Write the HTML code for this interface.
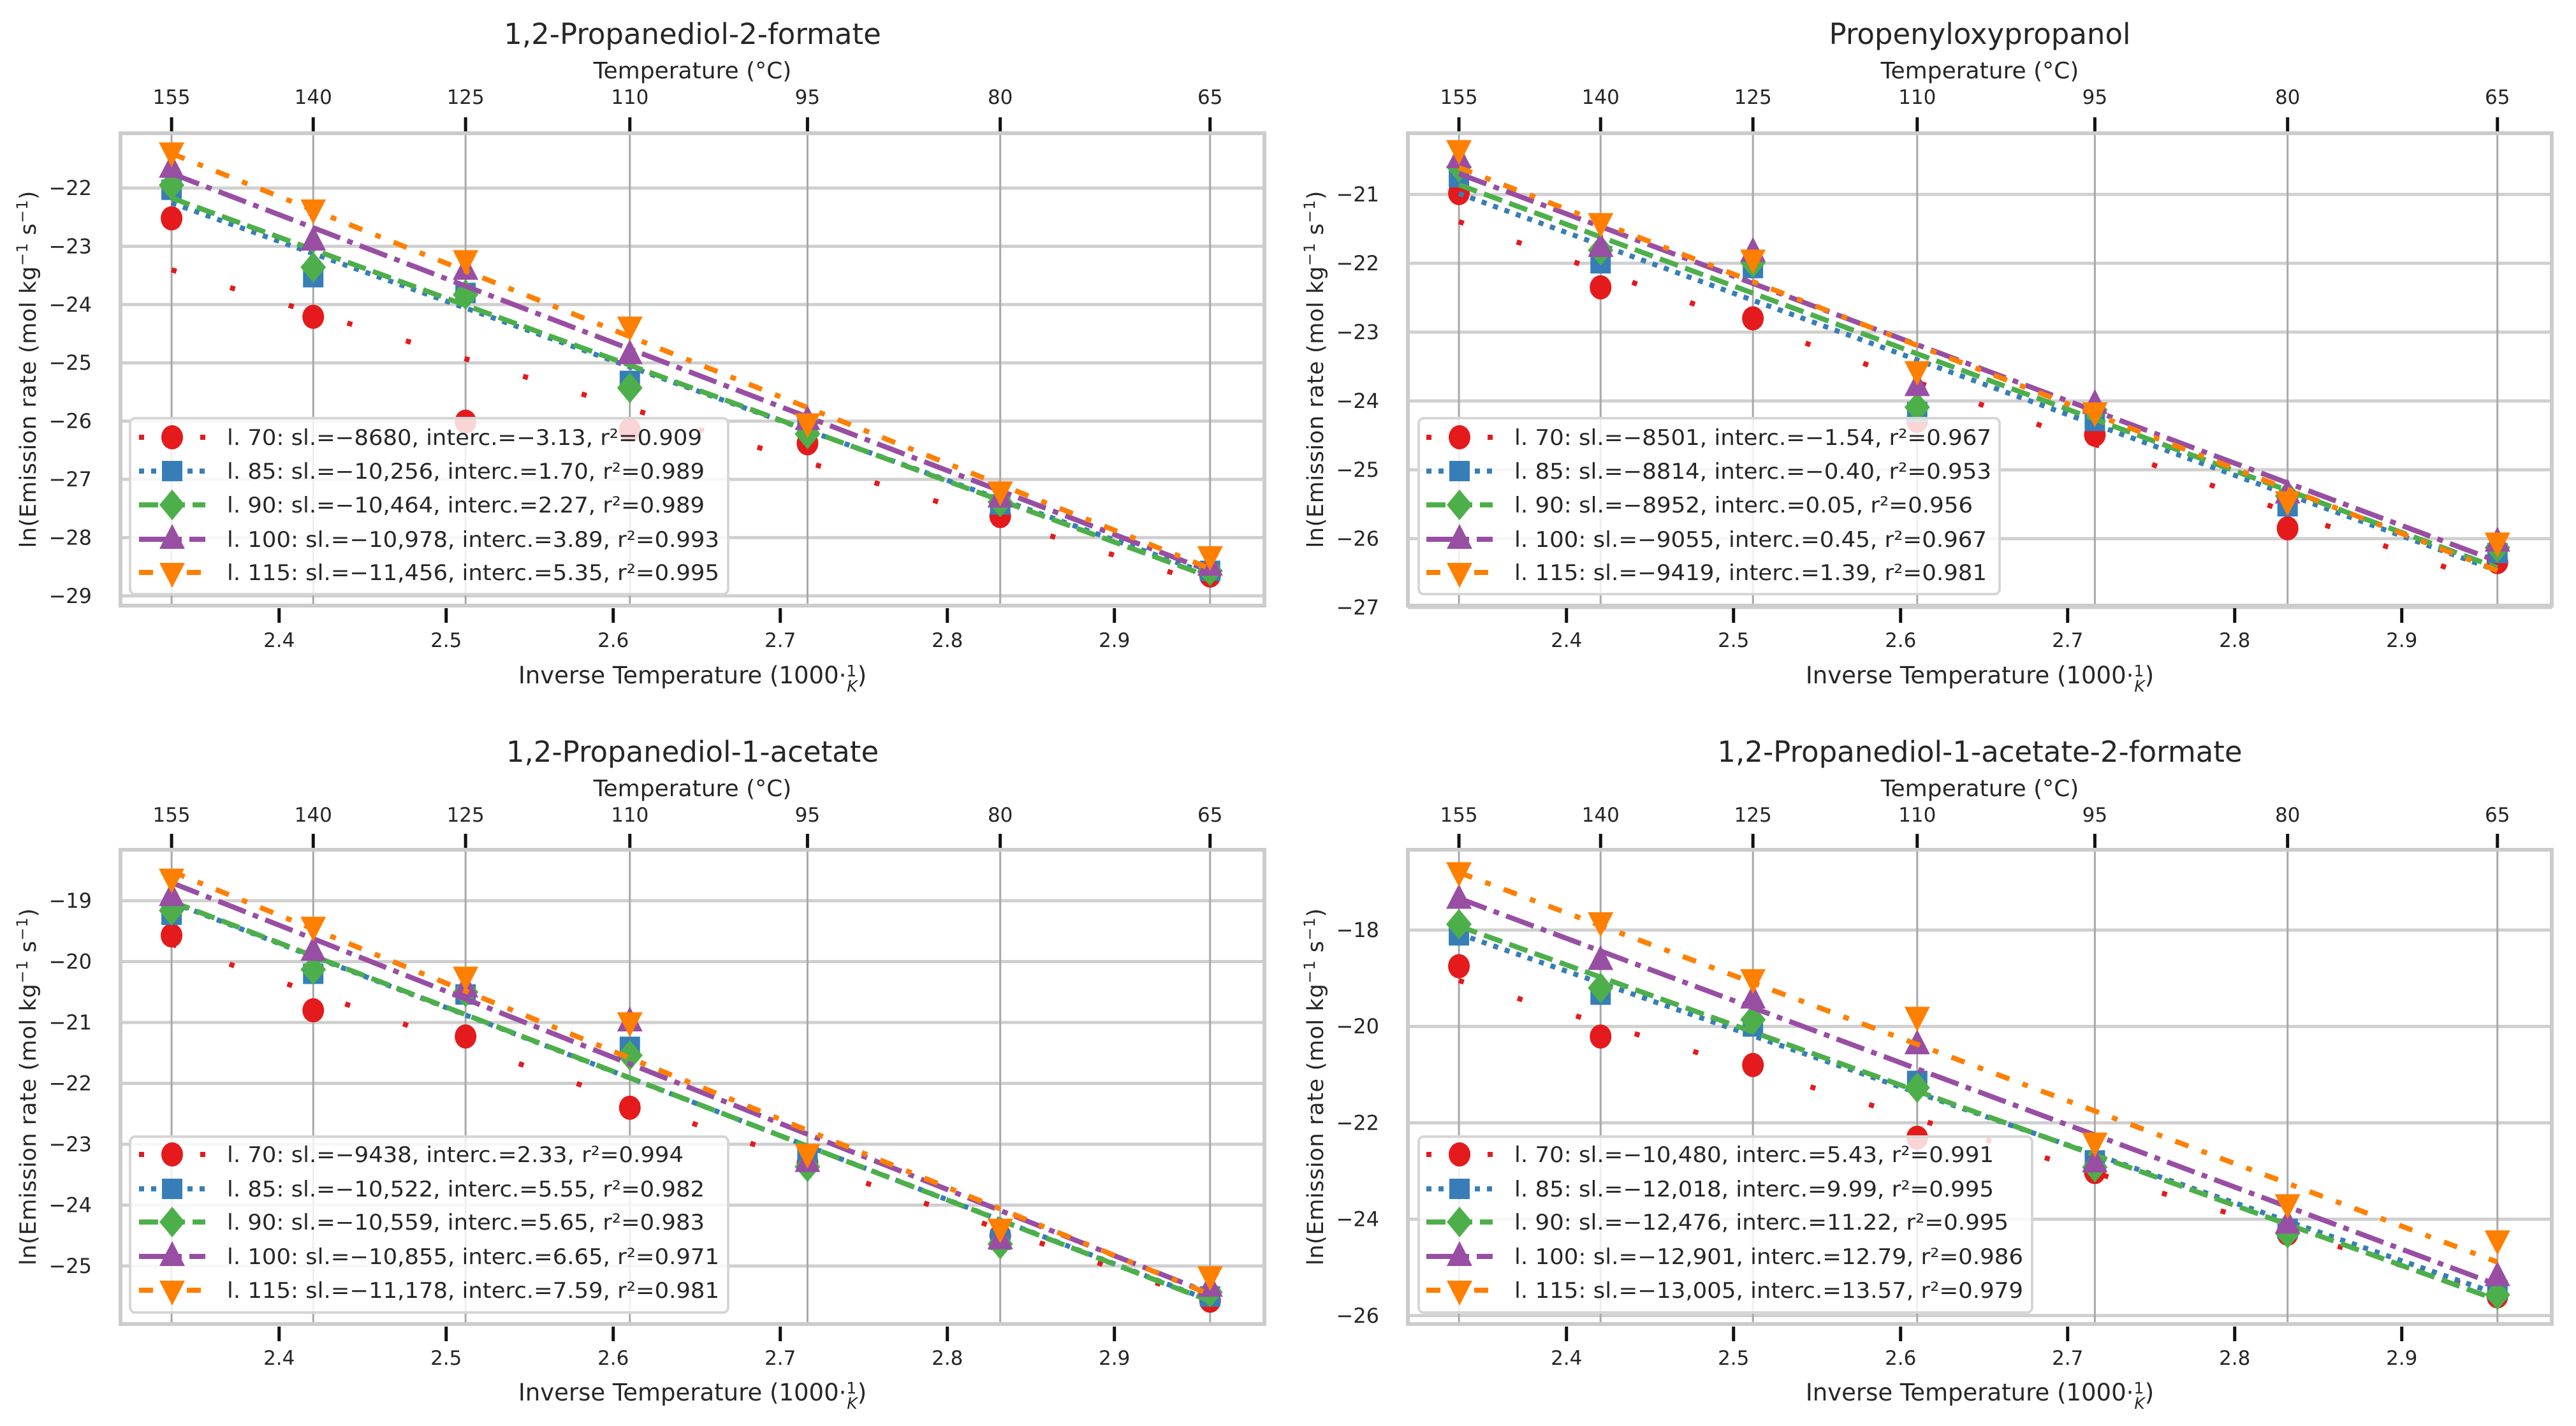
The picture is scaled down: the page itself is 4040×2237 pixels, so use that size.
<!DOCTYPE html>
<html><head><meta charset="utf-8"><style>
html,body{margin:0;padding:0;background:#fff}
svg{display:block}
text{font-family:"DejaVu Sans","Liberation Sans",sans-serif;fill:#262626}
</style></head><body>
<svg id="fig" xmlns="http://www.w3.org/2000/svg" width="4040" height="2237" viewBox="0 0 4040 2237"></svg>
<script>
// ---- data ----
const tempsC = [155,140,125,110,95,80,65];
const seriesLabels = ["70","85","90","100","115"];
const xTicks = [2.4,2.5,2.6,2.7,2.8,2.9];
const titles = ["1,2-Propanediol-2-formate","Propenyloxypropanol","1,2-Propanediol-1-acetate","1,2-Propanediol-1-acetate-2-formate"];
const yTicksP1 = [-22,-23,-24,-25,-26,-27,-28,-29];
const yTicksP2 = [-21,-22,-23,-24,-25,-26,-27];
const yTicksP3 = [-19,-20,-21,-22,-23,-24,-25];
const yTicksP4 = [-18,-20,-22,-24,-26];
const slopesP1 = [-8680,-10256,-10464,-10978,-11456];
const intercP1 = [-3.13,1.70,2.27,3.89,5.35];
const slopesP2 = [-8501,-8814,-8952,-9055,-9419];
const intercP2 = [-1.54,-0.40,0.05,0.45,1.39];
const slopesP3 = [-9438,-10522,-10559,-10855,-11178];
const intercP3 = [2.33,5.55,5.65,6.65,7.59];
const slopesP4 = [-10480,-12018,-12476,-12901,-13005];
const intercP4 = [5.43,9.99,11.22,12.79,13.57];
const legendP1 = ["l. 70: sl.=\u22128680, interc.=\u22123.13, r\u00b2=0.909","l. 85: sl.=\u221210,256, interc.=1.70, r\u00b2=0.989","l. 90: sl.=\u221210,464, interc.=2.27, r\u00b2=0.989","l. 100: sl.=\u221210,978, interc.=3.89, r\u00b2=0.993","l. 115: sl.=\u221211,456, interc.=5.35, r\u00b2=0.995"];
const legendP2 = ["l. 70: sl.=\u22128501, interc.=\u22121.54, r\u00b2=0.967","l. 85: sl.=\u22128814, interc.=\u22120.40, r\u00b2=0.953","l. 90: sl.=\u22128952, interc.=0.05, r\u00b2=0.956","l. 100: sl.=\u22129055, interc.=0.45, r\u00b2=0.967","l. 115: sl.=\u22129419, interc.=1.39, r\u00b2=0.981"];
const legendP3 = ["l. 70: sl.=\u22129438, interc.=2.33, r\u00b2=0.994","l. 85: sl.=\u221210,522, interc.=5.55, r\u00b2=0.982","l. 90: sl.=\u221210,559, interc.=5.65, r\u00b2=0.983","l. 100: sl.=\u221210,855, interc.=6.65, r\u00b2=0.971","l. 115: sl.=\u221211,178, interc.=7.59, r\u00b2=0.981"];
const legendP4 = ["l. 70: sl.=\u221210,480, interc.=5.43, r\u00b2=0.991","l. 85: sl.=\u221212,018, interc.=9.99, r\u00b2=0.995","l. 90: sl.=\u221212,476, interc.=11.22, r\u00b2=0.995","l. 100: sl.=\u221212,901, interc.=12.79, r\u00b2=0.986","l. 115: sl.=\u221213,005, interc.=13.57, r\u00b2=0.979"];
// measured points per series (order 155..65 °C)
const p1s70=[-22.52,-24.21,-26.01,-26.15,-26.38,-27.63,-28.65];
const p1s85=[-22.03,-23.53,-23.80,-25.31,-26.10,-27.43,-28.57];
const p1s90=[-21.95,-23.36,-23.83,-25.43,-26.22,-27.39,-28.57];
const p1s100=[-21.66,-22.91,-23.41,-24.86,-25.99,-27.32,-28.49];
const p1s115=[-21.38,-22.36,-23.23,-24.37,-26.03,-27.20,-28.31];
const p2s70=[-20.98,-22.35,-22.80,-24.29,-24.49,-25.85,-26.34];
const p2s85=[-20.75,-22.00,-22.07,-24.16,-24.29,-25.53,-26.21];
const p2s90=[-20.60,-21.81,-21.99,-24.09,-24.13,-25.38,-26.13];
const p2s100=[-20.48,-21.77,-21.84,-23.79,-24.05,-25.35,-26.05];
const p2s115=[-20.35,-21.41,-21.94,-23.56,-24.16,-25.45,-26.05];
const p3s70=[-19.57,-20.80,-21.23,-22.40,-23.30,-24.50,-25.57];
const p3s85=[-19.23,-20.20,-20.54,-21.40,-23.19,-24.57,-25.50];
const p3s90=[-19.16,-20.13,-20.50,-21.54,-23.37,-24.64,-25.43];
const p3s100=[-18.93,-19.83,-20.43,-20.99,-23.30,-24.57,-25.35];
const p3s115=[-18.63,-19.42,-20.24,-20.99,-23.15,-24.38,-25.16];
const p4s70=[-18.75,-20.21,-20.80,-22.31,-23.02,-24.30,-25.60];
const p4s85=[-18.11,-19.34,-20.00,-21.13,-22.78,-24.20,-25.47];
const p4s90=[-17.88,-19.20,-19.86,-21.27,-22.92,-24.29,-25.57];
const p4s100=[-17.36,-18.63,-19.43,-20.38,-22.83,-24.10,-25.19];
const p4s115=[-16.79,-17.83,-19.01,-19.79,-22.40,-23.68,-24.43];

// ---- styles / layout ----
const colors=["#e41a1c","#377eb8","#4daf4a","#984ea3","#ff7f00"];
const dashes=["8 88","8 11","30 12","46 12 9 12","22 22 9 22"];
const markers=["circle","square","diamond","tri-up","tri-down"];
const NS="http://www.w3.org/2000/svg";
const svg=document.getElementById("fig");
function el(tag,attrs,parent,txt){const e=document.createElementNS(NS,tag);for(const k in attrs)e.setAttribute(k,attrs[k]);if(txt!==undefined)e.textContent=txt;(parent||svg).appendChild(e);return e;}

const panels=[
 {dx:0,top:209,bot:950,y0:-22,ppu:91.4,yt:yTicksP1,sl:slopesP1,ic:intercP1,pts:[p1s70,p1s85,p1s90,p1s100,p1s115],leg:legendP1,legEnd:[1101,1105,1105,1128,1128],lbox:[204,656,1142,932],rows:[686,739,792,846,898],tY:53,tempY:110,ttY:152,xlY:1004,xaY:1060},
 {dx:2019,top:209,bot:950,y0:-21,ppu:108,yt:yTicksP2,sl:slopesP2,ic:intercP2,pts:[p2s70,p2s85,p2s90,p2s100,p2s115],leg:legendP2,legEnd:[1104,1104,1075,1097,1097],lbox:[206,656,1117,932],rows:[686,739,792,846,898],tY:53,tempY:110,ttY:152,xlY:1004,xaY:1060},
 {dx:0,top:1333,bot:2077,y0:-19,ppu:95.5,yt:yTicksP3,sl:slopesP3,ic:intercP3,pts:[p3s70,p3s85,p3s90,p3s100,p3s115],leg:legendP3,legEnd:[1072,1105,1105,1128,1128],lbox:[204,1783,1142,2059],rows:[1811,1865,1917,1971,2024],tY:1179,tempY:1236,ttY:1278,xlY:2130,xaY:2185},
 {dx:2019,top:1333,bot:2077,y0:-18,ppu:75.6,yt:yTicksP4,sl:slopesP4,ic:intercP4,pts:[p4s70,p4s85,p4s90,p4s100,p4s115],leg:legendP4,legEnd:[1108,1108,1131,1154,1154],lbox:[206,1783,1168,2059],rows:[1811,1865,1917,1971,2024],tY:1179,tempY:1236,ttY:1278,xlY:2130,xaY:2185}
];

function marker(g,type,cx,cy,color,s){
  let m;
  if(type==="circle") m=el("ellipse",{cx:cx,cy:cy,rx:17*s,ry:19*s,fill:color},g);
  else if(type==="square") m=el("rect",{x:cx-16*s,y:cy-16*s,width:32*s,height:32*s,fill:color},g);
  else if(type==="diamond") m=el("polygon",{points:`${cx},${cy-24*s} ${cx+20*s},${cy} ${cx},${cy+24*s} ${cx-20*s},${cy}`,fill:color},g);
  else if(type==="tri-up") m=el("polygon",{points:`${cx},${cy-24*s} ${cx+20*s},${cy+15*s} ${cx-20*s},${cy+15*s}`,fill:color},g);
  else m=el("polygon",{points:`${cx},${cy+24*s} ${cx+20*s},${cy-15*s} ${cx-20*s},${cy-15*s}`,fill:color},g);
  return m;
}

panels.forEach((p,pi)=>{
  const X=v=>p.dx+269+(v-2.3356)*2620;
  const Y=v=>p.top+ (p.y0-v)*p.ppu + (pi===0?86:pi===1?96:pi===2?80:126);
  const invT=tempsC.map(c=>1000/(c+273.15));
  const L=p.dx+189, R=p.dx+1983;
  const g=el("g",{});
  
  
  // grid
  p.yt.forEach(t=>{const l=el("line",{x1:L,x2:R,y1:Y(t),y2:Y(t),stroke:"#cfcfcf","stroke-width":5},g);
    
    const tx=el("text",{x:p.dx+144,y:Y(t)+11,"text-anchor":"end","font-size":32},g,(t<0?"\u2212":"")+Math.abs(t));
    });
  invT.forEach((v,i)=>{const l=el("line",{x1:X(v),x2:X(v),y1:p.top,y2:p.bot,stroke:"#a8a8a8","stroke-width":3},g);
    
    el("line",{x1:X(v),x2:X(v),y1:p.top-25,y2:p.top-3,stroke:"#111","stroke-width":5},g);
    const tx=el("text",{x:X(v),y:p.ttY+11,"text-anchor":"middle","font-size":31},g,String(tempsC[i]));
    });
  xTicks.forEach(v=>{el("line",{x1:X(v),x2:X(v),y1:p.bot+4,y2:p.bot+27,stroke:"#111","stroke-width":5},g);
    const tx=el("text",{x:X(v),y:p.xlY+11,"text-anchor":"middle","font-size":31},g,v.toFixed(1));
    });
  const box=el("rect",{x:L,y:p.top,width:R-L,height:p.bot-p.top,fill:"none",stroke:"#cccccc","stroke-width":6},g);
  
  // series
  const x0=invT[0], x1=invT[invT.length-1];
  seriesLabels.forEach((s,si)=>{
    const sg=el("g",{},g);
    
    
    const f=v=>p.sl[si]*v/1000+p.ic[si];
    const ln=el("line",{x1:X(x0),y1:Y(f(x0)),x2:X(x1),y2:Y(f(x1)),stroke:colors[si],"stroke-width":8,"stroke-dasharray":dashes[si]},sg);
    
    p.pts[si].forEach((v,i)=>{const m=marker(sg,markers[si],X(invT[i]),Y(v),colors[si],1);
      });
  });
  // legend
  const lg=el("g",{},g);
  
  const b=p.lbox;
  el("rect",{x:p.dx+b[0],y:b[1],width:b[2]-b[0],height:b[3]-b[1],rx:8,fill:"#fff","fill-opacity":0.82,stroke:"#d6d6d6","stroke-width":4},lg);
  p.leg.forEach((t,si)=>{
    const ry=p.rows[si];
    el("line",{x1:p.dx+218,x2:p.dx+322,y1:ry,y2:ry,stroke:colors[si],"stroke-width":8,"stroke-dasharray":si===0?"8 94":dashes[si]},lg);
    if(si===0) el("rect",{x:p.dx+314,y:ry-4,width:8,height:8,fill:colors[0]},lg);
    marker(lg,markers[si],p.dx+270,ry,colors[si],1);
    const tx=el("text",{x:p.dx+356,y:ry+12,"font-size":34,textLength:p.legEnd[si]-356,lengthAdjust:"spacingAndGlyphs"},lg,t);
    
  });
  // labels
  const cx=(L+R)/2;
  const tt=el("text",{x:cx,y:p.tY+16,"text-anchor":"middle","font-size":45},g,titles[pi]);
  
  const tl=el("text",{x:cx,y:p.tempY+13,"text-anchor":"middle","font-size":36},g,"Temperature (\u00b0C)");
  
  const xl=el("text",{x:cx,y:p.xaY+12,"text-anchor":"middle","font-size":37},g);
  
  xl.appendChild(document.createTextNode("Inverse Temperature (1000\u00b7"));
  el("tspan",{"font-size":25,dy:-11},xl,"1");
  el("tspan",{"font-size":25,dx:-15,dy:24,"font-style":"italic"},xl,"K");
  el("tspan",{dy:-13},xl,")");
  const yc=(p.top+p.bot)/2;
  const yl=el("text",{x:p.dx+56,y:yc,"text-anchor":"middle","font-size":35,textLength:560,lengthAdjust:"spacing",transform:`rotate(-90 ${p.dx+56} ${yc})`},g);
  
  yl.appendChild(document.createTextNode("ln(Emission rate (mol kg"));
  el("tspan",{"font-size":24,dy:-13},yl,"\u22121");
  el("tspan",{dy:13},yl," s");
  el("tspan",{"font-size":24,dy:-13},yl,"\u22121");
  el("tspan",{dy:13},yl,")");
});
</script>
</body></html>
